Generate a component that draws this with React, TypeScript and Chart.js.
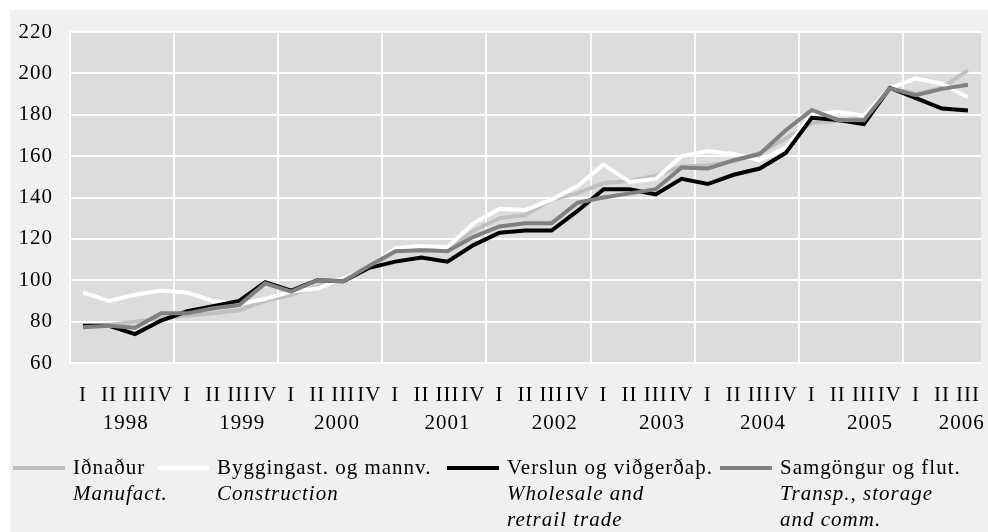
import React, { useEffect, useRef } from 'react';
import { Chart, registerables } from 'chart.js';

Chart.register(...registerables);

// ---- Data ----
const years = ['1998', '1999', '2000', '2001', '2002', '2003', '2004', '2005', '2006'];
const quarters = ['I', 'II', 'III', 'IV'];
const quartersInLastYear = 3;

// Iðnaður / Manufact.
const manufacturing = [
  77.5, 78.5, 80, 81.5, 83, 84, 85.5, 90, 93, 97, 100, 106,
  114, 115, 114.5, 124, 130, 131.5, 139, 142, 147, 148, 150.5, 155,
  155.5, 157.5, 161.5, 168.5, 176, 177, 178.5, 192.8, 190, 193, 201.5,
];
// Byggingast. og mannv. / Construction
const construction = [
  94, 90, 93, 95, 94, 90, 88.5, 91, 94.5, 96, 101, 106,
  115.5, 116.5, 116, 127.5, 134.5, 134, 139, 145.5, 156, 147.5, 149, 160,
  162.5, 161, 158, 164, 180, 181.5, 179.5, 193, 197.5, 195, 188.5,
];
// Verslun og viðgerðaþ. / Wholesale and retail trade
const trade = [
  78, 78, 74, 80.5, 85, 87.5, 90, 99, 95, 100, 99.5, 106,
  109, 111, 109, 117, 123, 124, 124, 133.5, 144, 144, 141.5, 149,
  146.5, 151, 154, 161.5, 178.5, 177.5, 175.5, 193, 188, 183, 182,
];
// Samgöngur og flut. / Transp., storage and comm.
const transport = [
  77.3, 78, 77, 84, 84, 86.5, 88, 98.5, 94.5, 100, 99.5, 107,
  114, 114.5, 114, 121, 126, 127.5, 127.5, 137.5, 140, 142, 144, 154.5,
  154, 158, 161, 172.5, 182.3, 177.5, 177.3, 192.8, 189.5, 192.5, 194.5,
];

const seriesNames = ['Iðnaður', 'Byggingast. og mannv.', 'Verslun og viðgerðaþ.', 'Samgöngur og flut.'];
const seriesEnglish = [['Manufact.'], ['Construction'], ['Wholesale and', 'retrail trade'], ['Transp., storage', 'and comm.']];
const seriesColors = ['#c0c0c0', '#ffffff', '#000000', '#808080'];

const yMin = 60;
const yMax = 220;
const yStep = 20;

// label nudges (in spaces) for the year line, as in the original layout: + leading, - trailing
const yearNudge = [-3, 1, -2, 0, 1, 2, 1, 2, -2];

// category labels: quarter, with the year under the third quarter
const labels: string[][] = [];
years.forEach((y, yi) => {
  const n = yi === years.length - 1 ? quartersInLastYear : 4;
  const k = yearNudge[yi];
  const yearText = k >= 0 ? ' '.repeat(k) + y : y + ' '.repeat(-k);
  for (let q = 0; q < n; q++) {
    labels.push(q === 2 ? [quarters[q], yearText] : [quarters[q]]);
  }
});

const FONT = '"Liberation Serif", "Times New Roman", serif';

const plotBg = {
  id: 'plotBg',
  beforeDraw(chart: any) {
    const { ctx, chartArea } = chart;
    ctx.fillStyle = '#dcdcdc';
    ctx.fillRect(chartArea.left, chartArea.top, chartArea.right - chartArea.left, chartArea.bottom - chartArea.top);
    ctx.letterSpacing = '1px';
  },
};

const customLegend = {
  id: 'customLegend',
  afterDraw(chart: any) {
    const ctx = chart.ctx;
    const textX = [63, 207, 497, 770];
    const lineY = 458;
    const lineGap = 26;
    ctx.save();
    ctx.letterSpacing = '1px';
    ctx.textBaseline = 'middle';
    ctx.textAlign = 'left';
    seriesNames.forEach((name, i) => {
      ctx.strokeStyle = seriesColors[i];
      ctx.lineWidth = 4;
      ctx.beginPath();
      ctx.moveTo(textX[i] - 60, lineY);
      ctx.lineTo(textX[i] - 8, lineY);
      ctx.stroke();
      ctx.fillStyle = '#000';
      ctx.font = `21px ${FONT}`;
      ctx.fillText(name, textX[i], lineY);
      ctx.font = `italic 21px ${FONT}`;
      seriesEnglish[i].forEach((t, k) => {
        ctx.fillText(t, textX[i], lineY + lineGap * (k + 1));
      });
    });
    ctx.restore();
  },
};

const noScalePadding = (s: any) => {
  s.paddingTop = 0;
  s.paddingBottom = 0;
  s.paddingLeft = 0;
  s.paddingRight = 0;
};

export default function App() {
  const ref = useRef<HTMLCanvasElement>(null);
  useEffect(() => {
    const data = [manufacturing, construction, trade, transport];
    const chart = new Chart(ref.current!, {
      type: 'line',
      data: {
        labels,
        datasets: data.map((d, i) => ({
          label: seriesNames[i],
          data: d,
          borderColor: seriesColors[i],
          backgroundColor: seriesColors[i],
          borderWidth: 4,
          pointRadius: 0,
          tension: 0,
          fill: false,
          order: 4 - i,
        })),
      },
      options: {
        animation: false,
        responsive: false,
        maintainAspectRatio: false,
        layout: { padding: { left: 0, top: 22, right: 7, bottom: 0 } },
        plugins: {
          legend: { display: false },
          tooltip: { enabled: false },
        },
        scales: {
          x: {
            type: 'category',
            offset: true,
            grid: {
              offset: true,
              drawTicks: false,
              lineWidth: 2,
              color: (c: any) => (c.index % 4 === 0 || c.index === labels.length ? '#ffffff' : 'rgba(0,0,0,0)'),
            },
            border: { display: true, color: '#ffffff', width: 2 },
            ticks: {
              autoSkip: false,
              maxRotation: 0,
              minRotation: 0,
              padding: 18,
              color: '#000',
              font: { family: FONT, size: 21, lineHeight: 1.333 },
            },
            afterFit: (s: any) => {
              s.height = 169;
              noScalePadding(s);
            },
          },
          y: {
            min: yMin,
            max: yMax,
            grid: { color: '#ffffff', lineWidth: 2, drawTicks: false },
            border: { display: true, color: '#ffffff', width: 2 },
            ticks: {
              stepSize: yStep,
              padding: 17,
              color: '#000',
              font: { family: FONT, size: 21 },
            },
            afterFit: (s: any) => {
              s.width = 60;
              noScalePadding(s);
            },
          },
        },
      },
      plugins: [plotBg, customLegend],
    });
    return () => chart.destroy();
  }, []);
  return (
    <div style={{ position: 'absolute', left: 10, top: 10, width: 978, height: 522, background: '#f0f0f0' }}>
      <canvas ref={ref} width={978} height={522} style={{ display: 'block', width: 978, height: 522 }} />
    </div>
  );
}
